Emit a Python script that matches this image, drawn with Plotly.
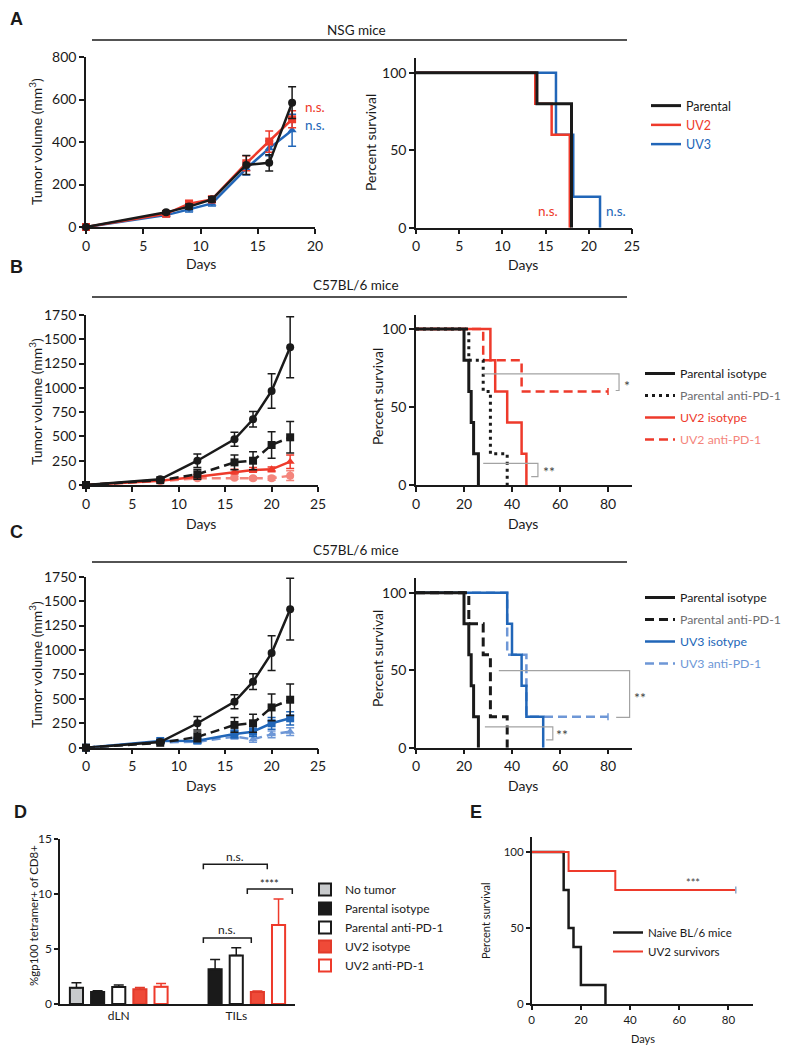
import plotly.graph_objects as go

# page is shown with the browser's default 8px body margin
OFF = 8
FW, FH = 785, 1042
FONT = "Lato"
BLACK = "#1a1a1a"
RED = "#EE3A2B"
LRED = "#F4857C"
BLUE = "#2166B8"
LBLUE = "#6E97D6"
GRAYTXT = "#6D6E71"
BRK = "#A3A3A3"

# ---------------- data ----------------
# Panel A: tumor growth (NSG mice)
a_days = [0, 7, 9, 11, 14, 16, 18]
a_parental = [0, 69, 96, 130, 292, 302, 585]
a_parental_err = [0, 8, 12, 12, 45, 38, 75]
a_uv2 = [0, 62, 110, 130, 300, 402, 507]
a_uv2_err = [0, 8, 15, 15, 35, 50, 40]
a_uv3 = [0, 56, 83, 111, 275, 370, 455]
a_uv3_err = [0, 8, 12, 12, 30, 35, 75]
a_labels = ["Parental", "UV2", "UV3"]

# Panel A: survival (NSG mice)
a_surv_par_t = [0, 14, 18]
a_surv_par_s = [100, 80, 0]
a_surv_uv2_t = [0, 13.8, 15.7, 17.8]
a_surv_uv2_s = [100, 80, 60, 0]
a_surv_uv3_t = [0, 16.2, 18.2, 21.3]
a_surv_uv3_s = [100, 60, 20, 0]

# Panels B/C: tumor growth (C57BL/6 mice)
bc_days = [0, 8, 12, 16, 18, 20, 22]
par_iso = [0, 58, 250, 470, 676, 968, 1418]
par_iso_err = [0, 10, 70, 72, 80, 178, 315]
par_anti = [0, 50, 110, 233, 250, 412, 491]
par_anti_err = [0, 10, 50, 76, 93, 137, 162]
uv2_iso = [0, 45, 86, 137, 155, 161, 240]
uv2_iso_err = [0, 8, 20, 25, 25, 25, 70]
uv2_anti = [0, 40, 69, 74, 69, 69, 96]
uv2_anti_err = [0, 8, 15, 15, 15, 20, 50]
uv3_iso = [0, 69, 72, 140, 164, 250, 301]
uv3_iso_err = [0, 10, 20, 40, 50, 60, 68]
uv3_anti = [0, 55, 61, 113, 86, 137, 164]
uv3_anti_err = [0, 10, 15, 25, 30, 35, 40]
b_labels = ["Parental isotype", "Parental anti-PD-1", "UV2 isotype", "UV2 anti-PD-1"]
c_labels = ["Parental isotype", "Parental anti-PD-1", "UV3 isotype", "UV3 anti-PD-1"]

# Panels B/C: survival
s_par_iso_t = [0, 20, 22, 23, 24, 26]
s_par_iso_s = [100, 80, 60, 40, 20, 0]
s_par_anti_t = [0, 22, 28, 31, 38]
s_par_anti_s = [100, 80, 60, 20, 0]
s_uv2_iso_t = [0, 31, 33, 38, 44, 46]
s_uv2_iso_s = [100, 80, 60, 40, 20, 0]
s_uv2_anti_t = [0, 28, 44, 80]
s_uv2_anti_s = [100, 80, 60, 60]
s_uv3_iso_t = [0, 38, 40, 44, 46, 53]
s_uv3_iso_s = [100, 80, 60, 40, 20, 0]
s_uv3_anti_t = [0, 38, 46, 80]
s_uv3_anti_s = [100, 60, 20, 20]

# Panel D: %gp100 tetramer+ of CD8+
d_sites = ["dLN", "TILs"]
d_groups = ["No tumor", "Parental isotype", "Parental anti-PD-1", "UV2 isotype", "UV2 anti-PD-1"]
d_values = {
    "No tumor": [1.48, None],
    "Parental isotype": [1.1, 3.15],
    "Parental anti-PD-1": [1.55, 4.42],
    "UV2 isotype": [1.33, 1.1],
    "UV2 anti-PD-1": [1.57, 7.18],
}
d_errors = {
    "No tumor": [0.45, 0],
    "Parental isotype": [0.1, 0.9],
    "Parental anti-PD-1": [0.18, 0.7],
    "UV2 isotype": [0.17, 0.08],
    "UV2 anti-PD-1": [0.3, 2.37],
}

# Panel E: rechallenge survival
e_naive_t = [0, 13, 15, 17, 20, 30]
e_naive_s = [100, 75, 50, 37.5, 12.5, 0]
e_surv_t = [0, 15, 34, 83]
e_surv_s = [100, 87.5, 75, 75]
e_labels = ["Naive BL/6 mice", "UV2 survivors"]

# ---------------- layout helpers ----------------
def px(x):
    return (x - OFF) / FW


def py(y):
    return 1 - (y - OFF) / FH


fig = go.Figure()

axis_common = dict(showline=True, linewidth=1.5, linecolor=BLACK, ticks="outside", ticklen=5,
                   tickwidth=1.5, tickcolor=BLACK, showgrid=False, zeroline=False,
                   tickfont=dict(family=FONT, size=14, color=BLACK), fixedrange=True)

panels = {
    # name: (axis suffix, x px range, y px range (top,bottom), xrange, yrange, xticks, yticks, tick font size)
    "A1": ("", (86, 315), (57, 227), [0, 20], [0, 800], [0, 5, 10, 15, 20], [0, 200, 400, 600, 800], 14),
    "A2": ("2", (416, 632), (58, 227.7), [0, 25], [0, 109.5], [0, 5, 10, 15, 20, 25], [0, 50, 100], 14),
    "B1": ("3", (86, 318), (315, 485), [0, 25], [0, 1750], [0, 5, 10, 15, 20, 25],
           [0, 250, 500, 750, 1000, 1250, 1500, 1750], 14),
    "B2": ("4", (416, 632), (315, 485), [0, 90], [0, 109], [0, 20, 40, 60, 80], [0, 50, 100], 14),
    "C1": ("5", (86, 318), (576.7, 747.7), [0, 25], [0, 1750], [0, 5, 10, 15, 20, 25],
           [0, 250, 500, 750, 1000, 1250, 1500, 1750], 14),
    "C2": ("6", (416, 632), (578.3, 747.7), [0, 90], [0, 109.3], [0, 20, 40, 60, 80], [0, 50, 100], 14),
    "D": ("7", (60, 295), (839, 1004), [-0.5, 1.5], [0, 15], None, [0, 5, 10, 15], 12),
    "E": ("8", (531.7, 753), (836.7, 1004), [0, 90], [0, 110], [0, 20, 40, 60, 80], [0, 50, 100], 11.5),
}

layout_axes = {}
for name, (k, xr, yr, xrng, yrng, xt, yt, fs) in panels.items():
    xa = dict(axis_common)
    ya = dict(axis_common)
    xa.update(domain=[px(xr[0]), px(xr[1])], range=xrng, anchor="y" + k,
              tickfont=dict(family=FONT, size=fs, color=BLACK))
    ya.update(domain=[py(yr[1]), py(yr[0])], range=yrng, anchor="x" + k,
              tickfont=dict(family=FONT, size=fs, color=BLACK), tickvals=yt)
    if xt is not None:
        xa.update(tickvals=xt)
    else:
        xa.update(tickvals=[0, 1], ticktext=d_sites, ticks="", ticklen=0)
    if fs < 14:
        xa.update(ticklen=4)
        ya.update(ticklen=4)
    layout_axes["xaxis" + k] = xa
    layout_axes["yaxis" + k] = ya


def tumor_trace(x, y, err, color, symbol, dash, k, size=8):
    return go.Scatter(
        x=x, y=y, mode="lines+markers", xaxis="x" + k, yaxis="y" + k, showlegend=False,
        line=dict(color=color, width=2.5, dash=dash),
        marker=dict(symbol=symbol, size=size, color=color),
        error_y=dict(type="data", array=err, color=color, thickness=1.5, width=4),
        cliponaxis=False,
    )


def surv_trace(t, s, color, dash, k, name, legend, rank, width=2.5, txtcolor=None):
    label = name if txtcolor is None else f"<span style='color:{txtcolor}'>{name}</span>"
    return go.Scatter(
        x=t, y=s, mode="lines", xaxis="x" + k, yaxis="y" + k, name=label,
        line=dict(color=color, width=width, dash=dash, shape="hv"),
        legend=legend, legendrank=rank, legendgroup=f"{legend}-{rank}", cliponaxis=False,
    )


def censor_trace(t, s, color, k):
    return go.Scatter(
        x=[t[-1]], y=[s[-1]], mode="markers", xaxis="x" + k, yaxis="y" + k, showlegend=False,
        marker=dict(symbol="line-ns", size=5, line=dict(color=color, width=1.5)), cliponaxis=False,
    )


DASH = "9px,5px"

# Panel A tumor
fig.add_trace(tumor_trace(a_days, a_uv3, a_uv3_err, BLUE, "triangle-up", "solid", ""))
fig.add_trace(tumor_trace(a_days, a_uv2, a_uv2_err, RED, "square", "solid", ""))
fig.add_trace(tumor_trace(a_days, a_parental, a_parental_err, BLACK, "circle", "solid", ""))

# Panel A survival
fig.add_trace(surv_trace(a_surv_uv3_t, a_surv_uv3_s, BLUE, "solid", "2", a_labels[2], "legend", 3, txtcolor=BLUE))
fig.add_trace(surv_trace(a_surv_uv2_t, a_surv_uv2_s, RED, "solid", "2", a_labels[1], "legend", 2, txtcolor=RED))
fig.add_trace(surv_trace(a_surv_par_t, a_surv_par_s, BLACK, "solid", "2", a_labels[0], "legend", 1, width=3))

# Panel B tumor
fig.add_trace(tumor_trace(bc_days, uv2_anti, uv2_anti_err, LRED, "circle", DASH, "3"))
fig.add_trace(tumor_trace(bc_days, uv2_iso, uv2_iso_err, RED, "triangle-up", "solid", "3"))
fig.add_trace(tumor_trace(bc_days, par_anti, par_anti_err, BLACK, "square", DASH, "3"))
fig.add_trace(tumor_trace(bc_days, par_iso, par_iso_err, BLACK, "circle", "solid", "3"))

# Panel B survival
fig.add_trace(surv_trace(s_uv2_anti_t, s_uv2_anti_s, RED, DASH, "4", b_labels[3], "legend2", 4, txtcolor=LRED))
fig.add_trace(censor_trace(s_uv2_anti_t, s_uv2_anti_s, RED, "4"))
fig.add_trace(surv_trace(s_uv2_iso_t, s_uv2_iso_s, RED, "solid", "4", b_labels[2], "legend2", 3, txtcolor=RED))
fig.add_trace(surv_trace(s_par_anti_t, s_par_anti_s, BLACK, "3px,4px", "4", b_labels[1], "legend2", 2,
                         width=3, txtcolor=GRAYTXT))
fig.add_trace(surv_trace(s_par_iso_t, s_par_iso_s, BLACK, "solid", "4", b_labels[0], "legend2", 1, width=3))

# Panel C tumor
fig.add_trace(tumor_trace(bc_days, uv3_anti, uv3_anti_err, LBLUE, "triangle-up", DASH, "5"))
fig.add_trace(tumor_trace(bc_days, uv3_iso, uv3_iso_err, BLUE, "square", "solid", "5"))
fig.add_trace(tumor_trace(bc_days, par_anti, par_anti_err, BLACK, "square", DASH, "5"))
fig.add_trace(tumor_trace(bc_days, par_iso, par_iso_err, BLACK, "circle", "solid", "5"))

# Panel C survival
fig.add_trace(surv_trace(s_uv3_anti_t, s_uv3_anti_s, LBLUE, DASH, "6", c_labels[3], "legend3", 4, txtcolor=LBLUE))
fig.add_trace(censor_trace(s_uv3_anti_t, s_uv3_anti_s, LBLUE, "6"))
fig.add_trace(surv_trace(s_uv3_iso_t, s_uv3_iso_s, BLUE, "solid", "6", c_labels[2], "legend3", 3, txtcolor=BLUE))
fig.add_trace(surv_trace(s_par_anti_t, s_par_anti_s, BLACK, DASH, "6", c_labels[1], "legend3", 2,
                         width=3, txtcolor=GRAYTXT))
fig.add_trace(surv_trace(s_par_iso_t, s_par_iso_s, BLACK, "solid", "6", c_labels[0], "legend3", 1, width=3))

# Panel D bars
bar_style = {
    "No tumor": ("#C8CACC", BLACK),
    "Parental isotype": (BLACK, BLACK),
    "Parental anti-PD-1": ("white", BLACK),
    "UV2 isotype": ("#EF4A38", "#E23A2A"),
    "UV2 anti-PD-1": ("white", RED),
}
for i, g in enumerate(d_groups):
    fill, edge = bar_style[g]
    fig.add_trace(go.Bar(
        x=[0, 1], y=d_values[g], name=g, xaxis="x7", yaxis="y7",
        marker=dict(color=fill, line=dict(color=edge, width=2)),
        error_y=dict(type="data", array=d_errors[g], arrayminus=[0, 0], symmetric=False,
                     color=edge, thickness=1.5, width=5),
        legend="legend4", legendrank=i + 1,
    ))

# Panel E survival
fig.add_trace(surv_trace(e_naive_t, e_naive_s, BLACK, "solid", "8", e_labels[0], "legend5", 1, width=2.5))
fig.add_trace(surv_trace(e_surv_t, e_surv_s, RED, "solid", "8", e_labels[1], "legend5", 2, width=2))
fig.add_trace(censor_trace(e_surv_t, e_surv_s, "#8FA8C8", "8"))

# ---------------- annotations ----------------
anns = []


def ann(text, x, y, size=14, color=BLACK, angle=0, bold=False, xref="paper", yref="paper",
        xanchor="center", yanchor="middle", family=FONT):
    if xref == "paper":
        x = px(x)
    if yref == "paper":
        y = py(y)
    if bold:
        text = f"<b>{text}</b>"
    anns.append(dict(text=text, x=x, y=y, xref=xref, yref=yref, showarrow=False, textangle=angle,
                     xanchor=xanchor, yanchor=yanchor,
                     font=dict(family=family, size=size, color=color)))


# panel letters
for letter, (lx, ly, anchor) in {"A": (8, 19, "left"), "B": (8, 267, "left"), "C": (8, 532, "left"),
                                 "D": (20, 812, "center"), "E": (476, 812, "center")}.items():
    ann(letter, lx, ly, size=18, bold=True, family="Liberation Sans", xanchor=anchor)

# group titles
for title, ty in [("NSG mice", 30), ("C57BL/6 mice", 285), ("C57BL/6 mice", 550)]:
    ann(title, 356, ty, size=13.5)

# axis titles
for yc in [142, 402, 665]:
    ann("Tumor volume (mm<sup>3</sup>)", 35, yc, size=14, angle=-90)
for xc, yc in [(371, 143), (377, 397), (377, 659)]:
    ann("Percent survival", xc, yc, size=14, angle=-90)
for xc, yc in [(201, 263), (523, 265), (201, 523), (523, 523), (201, 785), (523, 785)]:
    ann("Days", xc, yc, size=14)
ann("%gp100 tetramer+ of CD8+", 33, 916, size=11.5, angle=-90)
ann("Percent survival", 485, 921, size=11, angle=-90)
ann("Days", 643, 1038, size=11)

# significance labels
ann("n.s.", 20, 565, size=13.5, color=RED, xref="x", yref="y")
ann("n.s.", 20, 480, size=13.5, color=BLUE, xref="x", yref="y")
ann("n.s.", 15.3, 11, size=13.5, color=RED, xref="x2", yref="y2")
ann("n.s.", 23.1, 11, size=13.5, color=BLUE, xref="x2", yref="y2")
ann("*", 88, 64, size=14, color="#444", xref="x4", yref="y4")
ann("**", 55.5, 8.5, size=14, color="#444", xref="x4", yref="y4")
ann("**", 640, 697, size=14, color="#444")
ann("**", 61, 8.5, size=14, color="#444", xref="x6", yref="y6")
ann("n.s.", 0.99, 13.45, size=12, xref="x7", yref="y7")
ann("n.s.", 0.924, 6.75, size=12, xref="x7", yref="y7")
ann("****", 1.285, 10.95, size=11, xref="x7", yref="y7")
ann("***", 65.5, 80, size=11, color="#444", xref="x8", yref="y8")

# ---------------- shapes (group lines & brackets) ----------------
shapes = []
for ly in [40, 297, 562]:
    shapes.append(dict(type="line", xref="paper", yref="paper", x0=px(92), x1=px(627), y0=py(ly), y1=py(ly),
                       line=dict(color=BLACK, width=1.4)))


def bracket(pts, xref, yref, color, width=1.2):
    path = "M " + " L ".join(f"{x},{y}" for x, y in pts)
    shapes.append(dict(type="path", path=path, xref=xref, yref=yref, line=dict(color=color, width=width)))


bracket([(28, 71.3), (84.6, 71.3), (84.6, 60.6), (83.2, 60.6)], "x4", "y4", BRK)
bracket([(28, 13.9), (50.8, 13.9), (50.8, 5.4), (48, 5.4)], "x4", "y4", BRK)
bracket([(34.5, 49.7), (89, 49.7), (89, 19.6), (83.4, 19.6)], "x6", "y6", BRK)
bracket([(28.7, 13.5), (57, 13.5), (57, 5), (54.2, 5)], "x6", "y6", BRK)
bracket([(0.72, 12.25), (0.72, 12.7), (1.264, 12.7), (1.264, 12.25)], "x7", "y7", BLACK, 1.5)
bracket([(0.72, 5.55), (0.72, 6.0), (1.128, 6.0), (1.128, 5.55)], "x7", "y7", BLACK, 1.5)
bracket([(1.094, 10.0), (1.094, 10.45), (1.477, 10.45), (1.477, 10.0)], "x7", "y7", BLACK, 1.5)


def legend_at(xp, yp, size, gap=0):
    return dict(x=px(xp), y=py(yp), xanchor="left", yanchor="top", bgcolor="rgba(0,0,0,0)",
                font=dict(family=FONT, size=size, color=BLACK), tracegroupgap=gap, itemclick=False)


fig.update_layout(
    width=FW, height=FH, margin=dict(l=0, r=0, t=0, b=0, autoexpand=False),
    paper_bgcolor="white", plot_bgcolor="white",
    font=dict(family=FONT, size=14, color=BLACK),
    barmode="group", bargap=0.1, bargroupgap=0.38,
    annotations=anns, shapes=shapes,
    legend=legend_at(646, 91, 12.5),
    legend2=legend_at(640, 359, 12.3, gap=3),
    legend3=legend_at(640, 583, 12.3, gap=3),
    legend4=legend_at(305, 875, 12),
    legend5=legend_at(608, 918, 11.5),
    **layout_axes,
)

fig.write_html("out.html")
